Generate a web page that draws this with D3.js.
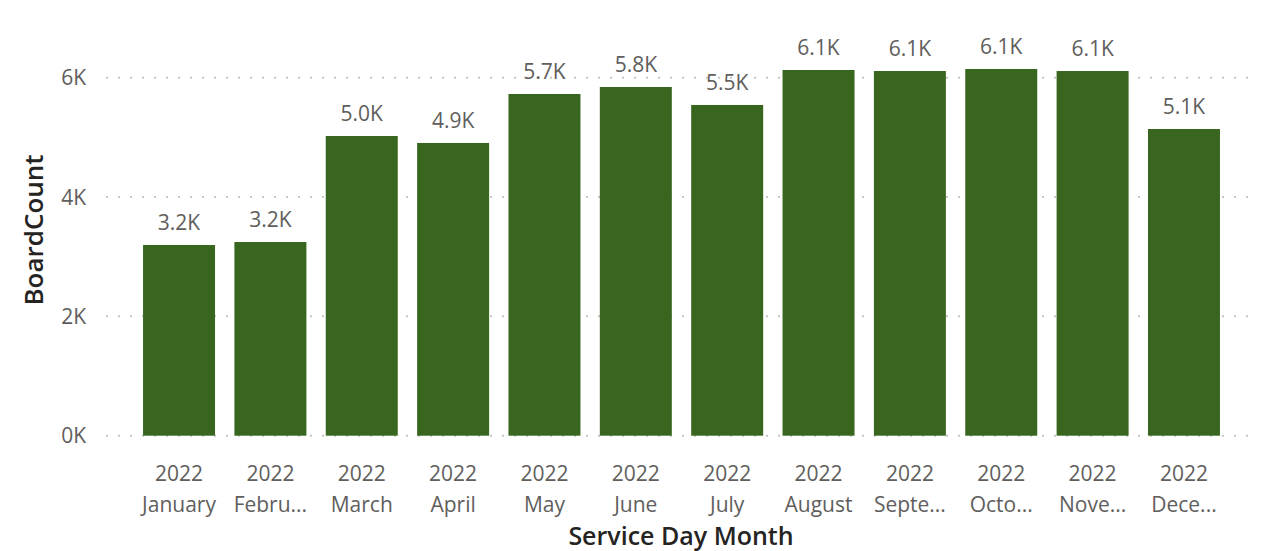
<!DOCTYPE html>
<html>
<head>
<meta charset="utf-8">
<script src="https://cdn.jsdelivr.net/npm/d3@7"></script>
<style>
  body { margin: 0; background: #fff; }
  text { font-family: "Open Sans", "Noto Sans", sans-serif; }
</style>
</head>
<body>
<div id="chart"></div>
<script>
var years = ["2022", "2022", "2022", "2022", "2022", "2022", "2022", "2022", "2022", "2022", "2022", "2022"];
var months = ["January", "Febru...", "March", "April", "May", "June", "July", "August", "Septe...", "Octo...", "Nove...", "Dece..."];
var boardCount = [3196, 3246, 5023, 4906, 5727, 5844, 5543, 6129, 6112, 6146, 6112, 5140];
var yTicks = [0, 2000, 4000, 6000];

var width = 1263,
    height = 551,
    gridLeft = 106,
    gridRight = 1249,
    barColor = "#38661f",
    textColor = "#605e5c";

var svg = d3.select("#chart").append("svg")
    .attr("width", width)
    .attr("height", height);

var x = d3.scaleBand()
    .domain(d3.range(months.length))
    .range([106.5, 1256.5])
    .paddingInner(0.212)
    .paddingOuter(0.4);

var y = d3.scaleLinear()
    .domain([0, 6000])
    .range([435.7, 77.7]);

// dotted gridlines
svg.selectAll("line.grid")
  .data(yTicks)
  .enter().append("line")
    .attr("class", "grid")
    .attr("x1", gridLeft)
    .attr("x2", gridRight)
    .attr("y1", function (d) { return y(d); })
    .attr("y2", function (d) { return y(d); })
    .style("stroke", "#c8c6c4")
    .style("stroke-width", 2)
    .style("stroke-dasharray", "2,10");

svg.selectAll("text.y_tick")
  .data(yTicks)
  .enter().append("text")
    .attr("class", "y_tick")
    .attr("x", 86)
    .attr("y", function (d) { return y(d) + 7.5; })
    .attr("text-anchor", "end")
    .attr("fill", textColor)
    .style("font-size", "21px")
    .text(function (d) { return (d / 1000) + "K"; });

svg.selectAll("rect.bar")
  .data(boardCount)
  .enter().append("rect")
    .attr("class", "bar")
    .attr("x", function (d, i) { return x(i); })
    .attr("width", x.bandwidth())
    .attr("y", function (d) { return y(d); })
    .attr("height", function (d) { return y(0) - y(d); })
    .attr("fill", barColor);

svg.selectAll("text.value_label")
  .data(boardCount)
  .enter().append("text")
    .attr("class", "value_label")
    .attr("x", function (d, i) { return x(i) + x.bandwidth() / 2; })
    .attr("y", function (d) { return y(d) - 15; })
    .attr("text-anchor", "middle")
    .attr("fill", textColor)
    .style("font-size", "21px")
    .text(function (d) { return d3.format(".1f")(d / 1000) + "K"; });

svg.selectAll("text.x_year")
  .data(years)
  .enter().append("text")
    .attr("class", "x_year")
    .attr("x", function (d, i) { return x(i) + x.bandwidth() / 2; })
    .attr("y", 481)
    .attr("text-anchor", "middle")
    .attr("fill", textColor)
    .style("font-size", "21px")
    .text(function (d) { return d; });

svg.selectAll("text.x_month")
  .data(months)
  .enter().append("text")
    .attr("class", "x_month")
    .attr("x", function (d, i) { return x(i) + x.bandwidth() / 2; })
    .attr("y", 512)
    .attr("text-anchor", "middle")
    .attr("fill", textColor)
    .style("font-size", "21px")
    .text(function (d) { return d; });

svg.append("text")
    .attr("x", 681)
    .attr("y", 545)
    .attr("text-anchor", "middle")
    .attr("fill", "#252423")
    .style("font-weight", 600)
    .style("font-size", "25px")
    .text("Service Day Month");

svg.append("text")
    .attr("transform", "translate(43,230) rotate(-90)")
    .attr("text-anchor", "middle")
    .attr("fill", "#252423")
    .style("font-weight", 600)
    .style("font-size", "26px")
    .text("BoardCount");
</script>
</body>
</html>
